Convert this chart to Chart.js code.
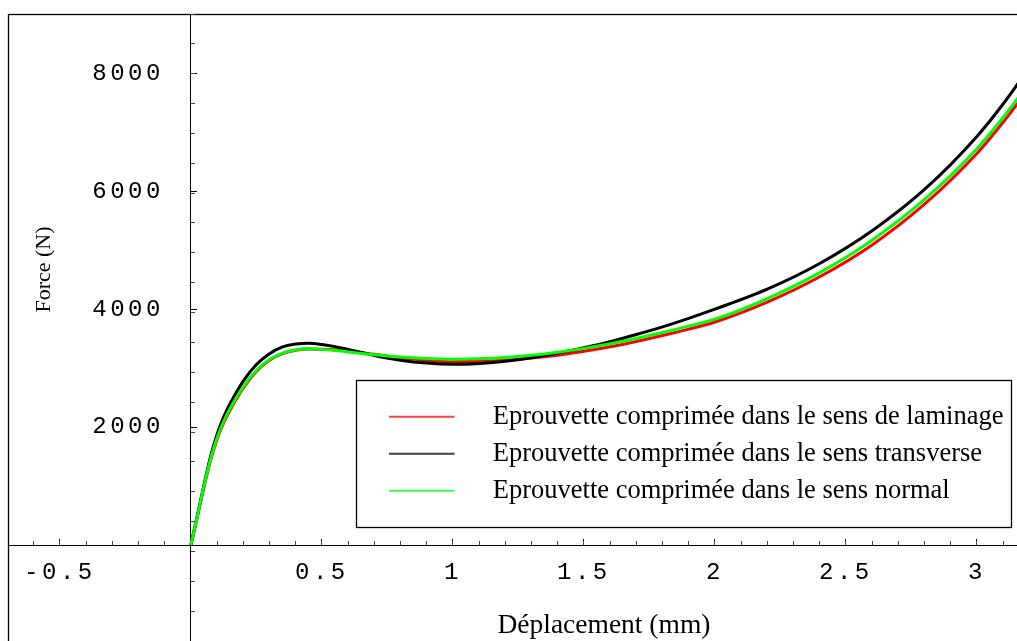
<!DOCTYPE html>
<html>
<head>
<meta charset="utf-8">
<script src="https://cdn.jsdelivr.net/npm/chart.js@4.4.0/dist/chart.umd.min.js"></script>
<style>
html, body { margin: 0; padding: 0; background: #fff; }
#wrap { width: 1017px; height: 641px; position: relative; }
</style>
</head>
<body>
<div id="wrap"><canvas id="myChart"></canvas></div>
<script>
// déplacement (mm), common to the three curves
const xs = [0, 0.025, 0.05, 0.075, 0.1, 0.125, 0.15, 0.2, 0.25, 0.3, 0.35, 0.4, 0.45, 0.5, 0.55, 0.6, 0.7, 0.8, 0.9, 1.0,
            1.1, 1.2, 1.3, 1.4, 1.5, 1.6, 1.7, 1.8, 1.9, 2.0, 2.2, 2.4, 2.6, 2.8, 3.0, 3.1, 3.2];
// force (N)
const laminage = [0, 485, 980, 1435, 1795, 2070, 2290, 2660, 2945, 3135, 3245, 3302, 3325, 3322, 3310, 3290, 3235, 3180, 3135, 3110,
                  3115, 3135, 3170, 3220, 3285, 3362, 3452, 3552, 3662, 3782, 4120, 4550, 5090, 5780, 6640, 7170, 7750];
const transverse = [0, 505, 1020, 1500, 1880, 2170, 2400, 2780, 3060, 3245, 3360, 3410, 3422, 3400, 3365, 3318, 3215, 3135, 3085, 3065,
                    3080, 3115, 3175, 3255, 3345, 3450, 3570, 3700, 3845, 4000, 4340, 4775, 5330, 6030, 6930, 7480, 8100];
const normal = [0, 495, 1000, 1455, 1820, 2095, 2320, 2680, 2960, 3145, 3255, 3310, 3328, 3318, 3300, 3275, 3228, 3188, 3162, 3150,
                3158, 3180, 3218, 3270, 3335, 3412, 3502, 3603, 3713, 3830, 4180, 4620, 5170, 5860, 6720, 7250, 7840];

const seriesNames = ['Eprouvette comprimée dans le sens de laminage',
                     'Eprouvette comprimée dans le sens transverse',
                     'Eprouvette comprimée dans le sens normal'];
const seriesColors = ['#ff0000', '#000000', '#00ff00'];

const xTickValues = [-0.5, 0, 0.5, 1, 1.5, 2, 2.5, 3];
const yTickValues = [0, 2000, 4000, 6000, 8000];

function pts(ys) {
    return xs.map((x, i) => ({x: x, y: ys[i]}));
}

// legend sample: a short line, then empty room before the text
function lineSample(color) {
    const c = document.createElement('canvas');
    c.width = 91;
    c.height = 4;
    const g = c.getContext('2d');
    g.strokeStyle = color;
    g.lineWidth = 1.6;
    g.beginPath();
    g.moveTo(0, 2);
    g.lineTo(66, 2);
    g.stroke();
    return c;
}

// linear scale with the wide courier look of the tick labels, no edge padding
class MathScale extends Chart.LinearScale {
    drawLabels(chartArea) {
        const ctx = this.ctx;
        ctx.save();
        ctx.letterSpacing = '3.5px';
        if (this.axis === 'y') ctx.translate(-27, 0);
        super.drawLabels(chartArea);
        ctx.restore();
    }
    getPadding() {
        return {left: 0, top: 0, right: 0, bottom: 0};
    }
}
MathScale.id = 'math';
MathScale.defaults = Chart.LinearScale.defaults;
Chart.register(MathScale);

const frame = {
    id: 'frame',
    beforeDraw(chart) {
        const ctx = chart.ctx;
        const lg = chart.legend;
        lg.left = 378; lg.top = 393; lg.right = 1011; lg.bottom = 527;
        ctx.save();
        ctx.fillStyle = '#fff';
        ctx.fillRect(0, 0, chart.width, chart.height);
        ctx.strokeStyle = '#000';
        ctx.lineWidth = 1.3;
        ctx.strokeRect(8.5, 14.5, 1100, 700);
        ctx.strokeRect(356.5, 380.5, 655, 147);
        ctx.restore();
    },
    afterDraw(chart) {
        const ctx = chart.ctx;
        const x0 = chart.scales.x.getPixelForValue(0);
        const y0 = chart.scales.y.getPixelForValue(0);
        ctx.save();
        ctx.fillStyle = '#000';
        ctx.textAlign = 'center';
        ctx.textBaseline = 'middle';
        ctx.font = '27.5px "Liberation Serif"';
        ctx.fillText('Déplacement (mm)', (x0 + chart.chartArea.right) / 2, 626);
        ctx.translate(44, y0 / 2 - 3);
        ctx.rotate(-Math.PI / 2);
        ctx.font = '22px "Liberation Serif"';
        ctx.fillText('Force (N)', 0, 0);
        ctx.restore();
    }
};

const ctx = document.getElementById('myChart');
const myChart = new Chart(ctx, {
    type: 'scatter',
    data: {
        datasets: [{
            label: seriesNames[0],
            data: pts(laminage),
            borderColor: seriesColors[0],
            order: 2
        }, {
            label: seriesNames[1],
            data: pts(transverse),
            borderColor: seriesColors[1],
            order: 1
        }, {
            label: seriesNames[2],
            data: pts(normal),
            borderColor: seriesColors[2],
            order: 0
        }]
    },
    options: {
        responsive: true,
        maintainAspectRatio: false,
        animation: false,
        showLine: true,
        elements: {
            point: { radius: 0 },
            line: { borderWidth: 3, cubicInterpolationMode: 'monotone', fill: false }
        },
        layout: { padding: { left: 8, top: 14, right: 0, bottom: 0 } },
        scales: {
            x: {
                type: 'math',
                min: -0.698,
                max: 3.153,
                position: { y: 0 },
                afterBuildTicks: s => { s.ticks = xTickValues.map(v => ({value: v})); },
                ticks: {
                    autoSkip: false,
                    maxRotation: 0,
                    padding: 20,
                    color: '#000',
                    font: { family: '"Liberation Mono"', size: 24 },
                    callback: v => v === 0 ? '' : String(v)
                },
                grid: { drawOnChartArea: false, tickLength: -7, tickColor: '#000', tickWidth: 1 },
                border: { color: '#000', width: 1 }
            },
            xMinor: {
                type: 'math',
                min: -0.698,
                max: 3.153,
                position: { y: 0 },
                ticks: { stepSize: 0.1, display: false, includeBounds: false },
                grid: { drawOnChartArea: false, tickLength: -4, tickColor: '#444', tickWidth: 1 },
                border: { display: false }
            },
            y: {
                type: 'math',
                min: -1628,
                max: 9006,
                position: { x: 0 },
                afterBuildTicks: s => { s.ticks = yTickValues.map(v => ({value: v})); },
                ticks: {
                    autoSkip: false,
                    color: '#000',
                    font: { family: '"Liberation Mono"', size: 24 },
                    callback: v => v <= 0 ? '' : String(v)
                },
                grid: { drawOnChartArea: false, tickLength: -7, tickColor: '#000', tickWidth: 1 },
                border: { color: '#000', width: 1 }
            },
            yMinor: {
                type: 'math',
                min: -1628,
                max: 9006,
                position: { x: 0 },
                ticks: { stepSize: 500, display: false, includeBounds: false },
                grid: { drawOnChartArea: false, tickLength: -4, tickColor: '#444', tickWidth: 1 },
                border: { display: false }
            }
        },
        plugins: {
            tooltip: { enabled: false },
            legend: {
                position: 'chartArea',
                align: 'start',
                labels: {
                    color: '#000',
                    font: { family: '"Liberation Serif"', size: 26.5 },
                    usePointStyle: true,
                    pointStyleWidth: 91,
                    padding: 10.5,
                    generateLabels: chart => chart.data.datasets.map((ds, i) => ({
                        text: ds.label,
                        fillStyle: seriesColors[i],
                        strokeStyle: seriesColors[i],
                        fontColor: '#000',
                        lineWidth: 0,
                        hidden: false,
                        datasetIndex: i,
                        pointStyle: lineSample(seriesColors[i])
                    }))
                }
            }
        }
    },
    plugins: [frame]
});
</script>
</body>
</html>
